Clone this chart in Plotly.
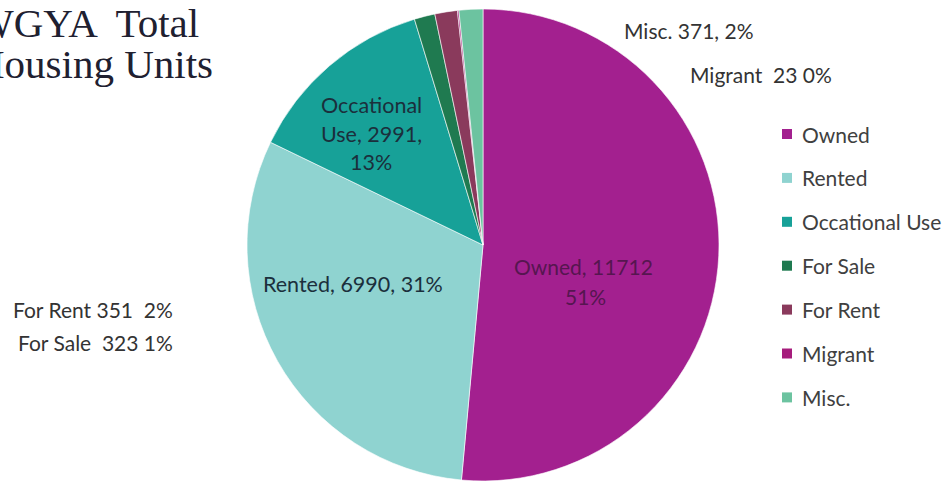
import plotly.graph_objects as go

# Housing unit categories and counts
labels = ["Owned", "Rented", "Occational Use", "For Sale", "For Rent", "Migrant", "Misc."]
values = [11712, 6990, 2991, 323, 351, 23, 371]
colors = ["#A3208F", "#8FD3D0", "#17A198", "#1F7A50", "#8A3A5C", "#A61C7C", "#6CC3A0"]
title_lines = ["WGYA  Total", "Housing Units"]

W, H = 951, 485
total = sum(values)
pct = [round(v * 100 / total) for v in values]


def px(x):
    return x / W


def py(y):
    return 1 - y / H


cx, cy, r = 483, 245, 236

fig = go.Figure(
    go.Pie(
        labels=labels,
        values=values,
        sort=False,
        direction="clockwise",
        rotation=0,
        marker=dict(colors=colors, line=dict(color="rgba(255,255,255,0.6)", width=1)),
        textinfo="none",
        hoverinfo="label+value+percent",
        showlegend=False,
        domain=dict(x=[px(cx - r), px(cx + r)], y=[py(cy + r), py(cy - r)]),
    )
)

ann = []
FONT = "Lato, Noto Sans, sans-serif"
lab_font = dict(family=FONT, size=21.5, color="#1B2F3C")
side_font = dict(family=FONT, size=21, color="#333333")


def note(x, y, text, font, anchor="center"):
    ann.append(dict(x=px(x), y=py(y), text=text, showarrow=False, xanchor=anchor,
                    yanchor="middle", font=font))


# labels placed on the large slices
i = labels.index("Owned")
owned_font = dict(family=FONT, size=21, color="#561650")
note(583, 266, f"{labels[i]}, {values[i]}", owned_font)
note(585, 296, f"{pct[i]}%", owned_font)

i = labels.index("Rented")
note(353, 284, f"{labels[i]}, {values[i]}, {pct[i]}%", lab_font)

i = labels.index("Occational Use")
first, second = labels[i].split(" ")
for t, yy in [(first, 105), (f"{second}, {values[i]},", 134), (f"{pct[i]}%", 162)]:
    note(371, yy, t, lab_font)

# labels for the thin slices, set away from the pie
i = labels.index("Misc.")
note(622, 31, f"{labels[i]} {values[i]}, {pct[i]}%", side_font, "left")
i = labels.index("Migrant")
note(688, 74, f"{labels[i]}  {values[i]} {pct[i]}%", side_font, "left")
i = labels.index("For Rent")
note(11, 309, f"{labels[i]} {values[i]}  {pct[i]}%", side_font, "left")
i = labels.index("For Sale")
note(16, 342, f"{labels[i]}  {values[i]} {pct[i]}%", side_font, "left")

# title, running off the left edge
for t, yy in zip(title_lines, [23, 64]):
    note(-27, yy, t, dict(family="Liberation Serif, serif", size=41, color="#202030"), "left")

# legend column
shapes = []
leg_y0, leg_dy = 134, 43.9
for k, (lab, col) in enumerate(zip(labels, colors)):
    yy = leg_y0 + k * leg_dy
    shapes.append(dict(type="rect", xref="paper", yref="paper",
                       x0=px(782), x1=px(792), y0=py(yy + 5), y1=py(yy - 5),
                       fillcolor=col, line=dict(width=0)))
    note(800, yy, lab, dict(family=FONT, size=21, color="#404040"), "left")

fig.update_layout(
    width=W, height=H,
    margin=dict(l=0, r=0, t=0, b=0),
    paper_bgcolor="white",
    plot_bgcolor="white",
    annotations=ann,
    shapes=shapes,
)

fig.write_html("out.html")
